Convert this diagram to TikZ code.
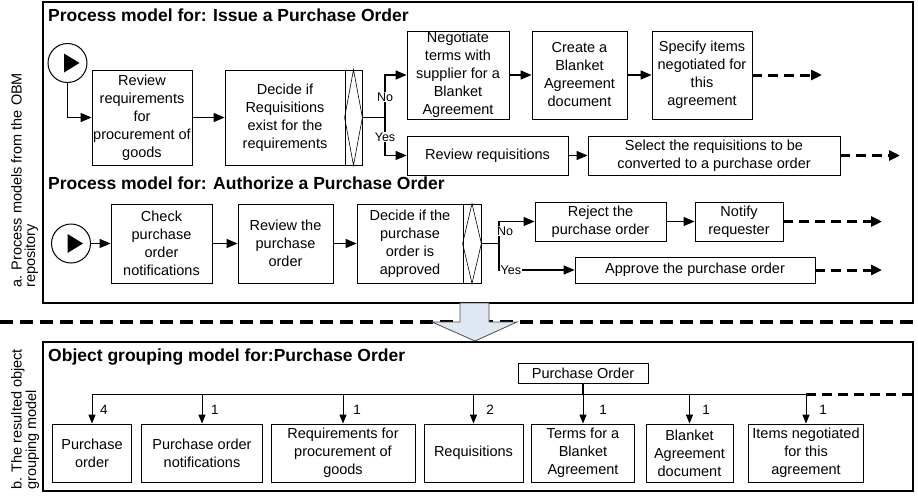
\documentclass[tikz,border=0pt]{standalone}
\usepackage{fontspec}
\setmainfont{Liberation Sans}
\usetikzlibrary{arrows.meta}
\definecolor{arrowfill}{HTML}{DFE7F3}
\begin{document}
\begin{tikzpicture}[x=1pt,y=-1pt,
 box/.style={draw, line width=0.8pt, align=center, inner sep=1pt, font=\fontsize{14.5}{18}\selectfont},
 gw/.style={draw, line width=0.8pt, inner sep=0pt},
 flow/.style={line width=1.3pt, -{Triangle[length=11pt,width=9pt]}},
 dflow/.style={line width=3pt, dash pattern=on 10pt off 6pt, -{Triangle[length=11pt,width=10pt]}},
 oflow/.style={line width=1pt, -{Triangle[length=9pt,width=7pt]}},
 ttl/.style={anchor=west, font=\fontsize{17.5}{20}\selectfont\bfseries, inner sep=0pt},
 lbl/.style={fill=white, inner sep=1pt, font=\fontsize{12.5}{14}\selectfont},
 mult/.style={inner sep=0pt, font=\fontsize{13.5}{15}\selectfont},
 frm/.style={draw, line width=1.2pt},
 startev/.style={draw, circle, line width=1pt, minimum size=39pt, inner sep=0pt},
 side/.style={rotate=90, anchor=north west, align=left, inner sep=0pt, font=\fontsize{14.5}{13.5}\selectfont},
]
\useasboundingbox (0,0) rectangle (918,496);

% frames
\draw[frm] (43,2) rectangle (913,303);
\draw[frm] (43,342) rectangle (913,491);

% separator and block arrow
\draw[line width=3.5pt, dash pattern=on 13pt off 7pt] (0,322) -- (918,322);
\draw[fill=arrowfill, draw=gray!60!black, line width=0.8pt]
  (460,303) -- (460,322) -- (432,322) -- (475,341) -- (517,322) -- (489,322) -- (489,303) -- cycle;

% side labels
\node[side] (la) at (11,288) {a. Process models from the OBM\\repository};
\node[side] (lb) at (11,490) {b. The resulted object\\grouping model};

% titles
\node[ttl] (t1) at (48,15) {Process model for: Issue a Purchase Order};
\node[ttl] (t2) at (48,183) {Process model for: Authorize a Purchase Order};
\node[ttl] (t3) at (48,357) {Object grouping model for:Purchase Order};

% ---- row 1
\node[startev] (st1) at (67.5,63) {};
\fill (st1.center) ++(-3.5,-9.5) -- ++(0,19) -- ++(15.5,-9.5) -- cycle;
\node[box, minimum width=100pt, minimum height=95pt] (b1) at (142,117.5) {Review\\requirements\\for\\procurement of\\goods};
\node[box, minimum width=120pt, minimum height=95pt] (b2) at (285,117.5) {Decide if\\Requisitions\\exist for the\\requirements};
\node[gw, minimum width=17pt, minimum height=95pt] (g1) at (353.5,117.5) {};
\draw[line width=0.6pt] (g1.north) -- (g1.east) -- (g1.south) -- (g1.west) -- cycle;
\node[box, minimum width=102pt, minimum height=88pt] (n1) at (458,75) {Negotiate\\terms with\\supplier for a\\Blanket\\Agreement};
\node[box, minimum width=95pt, minimum height=88pt] (c1) at (579.5,75) {Create a\\Blanket\\Agreement\\document};
\node[box, minimum width=100pt, minimum height=88pt] (sp1) at (702,75) {Specify items\\negotiated for\\this\\agreement};
\node[box, minimum width=161pt, minimum height=39pt] (rr) at (487.5,155.5) {Review requisitions};
\node[box, minimum width=252pt, minimum height=39pt] (sel) at (714,155.5) {Select the requisitions to be\\converted to a purchase order};
\coordinate (j1) at (385,117.5);
\coordinate (e1) at (822,75);
\coordinate (e2) at (900,155.5);

\draw[flow] (st1.south) |- (b1.west);
\draw[flow] (b1.east) -- (b2.west);
\draw[line width=1.3pt] (g1.east) -- (j1);
\draw[flow] (j1) |- (n1.west);
\draw[flow] (j1) |- (rr.west);
\node[lbl] (no1) at (385,97) {No};
\node[lbl] (yes1) at (385,137) {Yes};
\draw[flow] (n1.east) -- (c1.west);
\draw[flow] (c1.east) -- (sp1.west);
\draw[dflow] (sp1.east) -- (e1);
\draw[flow] (rr.east) -- (sel.west);
\draw[dflow] (sel.east) -- (e2);

% ---- row 2
\node[startev] (st2) at (71,243.5) {};
\fill (st2.center) ++(-3.5,-9.5) -- ++(0,19) -- ++(15.5,-9.5) -- cycle;
\node[box, minimum width=101pt, minimum height=79pt] (chk) at (161.5,243.5) {Check\\purchase\\order\\notifications};
\node[box, minimum width=95pt, minimum height=79pt] (rv) at (285.5,243.5) {Review the\\purchase\\order};
\node[box, minimum width=106pt, minimum height=79pt] (dc) at (410,243.5) {Decide if the\\purchase\\order is\\approved};
\node[gw, minimum width=18pt, minimum height=79pt] (g2) at (472,243.5) {};
\draw[line width=0.6pt] (g2.north) -- (g2.east) -- (g2.south) -- (g2.west) -- cycle;
\node[box, minimum width=131pt, minimum height=39pt] (rej) at (600.5,221.5) {Reject the\\purchase order};
\node[box, minimum width=88pt, minimum height=39pt] (ntf) at (739,221.5) {Notify\\requester};
\node[box, minimum width=240pt, minimum height=26pt] (app) at (695,270) {Approve the purchase order};
\coordinate (j2) at (499,243.5);
\coordinate (e3) at (882,221.5);
\coordinate (e4) at (882,270);

\draw[flow] (st2.east) -- (chk.west);
\draw[flow] (chk.east) -- (rv.west);
\draw[flow] (rv.east) -- (dc.west);
\draw[line width=1.3pt] (g2.east) -- (j2);
\draw[flow] (j2) |- (rej.west);
\draw[flow] (j2) |- (app.west);
\node[lbl] (no2) at (505,231) {No};
\node[lbl, anchor=west] (yes2) at (499.5,270) {Yes};
\draw[flow] (rej.east) -- (ntf.west);
\draw[dflow] (ntf.east) -- (e3);
\draw[dflow] (app.east) -- (e4);

% ---- object grouping model
\node[box, minimum width=130pt, minimum height=20pt] (po) at (583,373) {Purchase Order};
\coordinate (busL) at (92,394);
\coordinate (busR) at (806,394);
\coordinate (busE) at (913,394);
\node[box, minimum width=79pt, minimum height=58pt] (o1) at (92,453) {Purchase\\order};
\node[box, minimum width=121pt, minimum height=58pt] (o2) at (202,453) {Purchase order\\notifications};
\node[box, minimum width=144pt, minimum height=58pt] (o3) at (343,453) {Requirements for\\procurement of\\goods};
\node[box, minimum width=99pt, minimum height=58pt] (o4) at (473.5,453) {Requisitions};
\node[box, minimum width=103pt, minimum height=58pt] (o5) at (583,453) {Terms for a\\Blanket\\Agreement};
\node[box, minimum width=87pt, minimum height=58pt] (o6) at (689.5,453) {Blanket\\Agreement\\document};
\node[box, minimum width=115pt, minimum height=58pt] (o7) at (806,453) {Items negotiated\\for this\\agreement};

\draw[line width=1pt] (busL) -- (busR);
\draw[line width=2pt] (po.south) -- (po.south |- busL);
\draw[line width=3pt, dash pattern=on 10pt off 6pt] (busR) -- (busE);
\foreach \o in {o1,o2,o3,o4,o5,o6,o7}{
  \draw[oflow] (\o.north |- busL) -- (\o.north);
}
\node[mult] (m1) at (104,410) {4};
\node[mult] (m2) at (215,410) {1};
\node[mult] (m3) at (357,410) {1};
\node[mult] (m4) at (490,410) {2};
\node[mult] (m5) at (603,410) {1};
\node[mult] (m6) at (706,410) {1};
\node[mult] (m7) at (823,410) {1};
\end{tikzpicture}
\end{document}
